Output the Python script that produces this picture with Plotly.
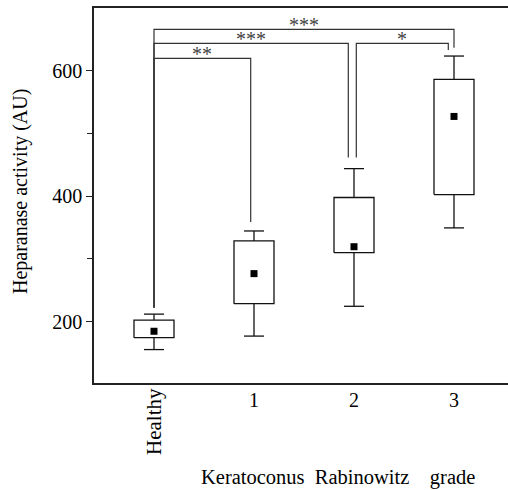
import plotly.graph_objects as go

# ---- data ----
groups = ["Healthy", "1", "2", "3"]
group_pos = [0, 1, 2, 3]
lower_whisker = [155.5, 177, 224.5, 349.5]
q1_vals = [174.5, 228.7, 310, 402.7]
q3_vals = [202.5, 328.7, 398, 586.3]
upper_whisker = [212, 344.6, 444, 623.5]
mean_vals = [184.7, 276.6, 319.5, 527.2]

# significance brackets: left x, right x, top y, left foot y, right foot y, label
br_left_x = [0, 0, 0, 2.023]
br_right_x = [0.967, 1.943, 3.0, 2.943]
br_top_y = [619.8, 643.7, 666.1, 643.7]
br_left_foot = [222.3, 222.3, 222.3, 461.8]
br_right_foot = [359, 461.8, 636.7, 633]
br_labels = ["**", "***", "***", "*"]

y_ticks = [200, 400, 600]
y_minor = [300, 500]

BOX_HALF = 0.2
CAP_HALF = 0.1
FONT = "Liberation Serif"
LINE = dict(color="#111111", width=1.3)

fig = go.Figure()

# boxes and whiskers drawn from the stats arrays
for p, lo, a, b, hi in zip(group_pos, lower_whisker, q1_vals, q3_vals, upper_whisker):
    fig.add_trace(go.Scatter(
        x=[p - BOX_HALF, p + BOX_HALF, p + BOX_HALF, p - BOX_HALF, p - BOX_HALF],
        y=[a, a, b, b, a], mode="lines", fill="toself", fillcolor="white",
        line=LINE, showlegend=False, hoverinfo="skip"))
    fig.add_trace(go.Scatter(
        x=[p, p, None, p, p, None,
           p - CAP_HALF, p + CAP_HALF, None, p - CAP_HALF, p + CAP_HALF],
        y=[b, hi, None, a, lo, None, hi, hi, None, lo, lo],
        mode="lines", line=LINE, showlegend=False, hoverinfo="skip"))

fig.add_trace(go.Scatter(
    x=group_pos, y=mean_vals, mode="markers",
    marker=dict(symbol="square", size=7, color="black"),
    showlegend=False, hoverinfo="skip",
))

for xl, xr, yt, yl, yr, lab in zip(br_left_x, br_right_x, br_top_y,
                                    br_left_foot, br_right_foot, br_labels):
    fig.add_trace(go.Scatter(
        x=[xl, xl, xr, xr], y=[yl, yt, yt, yr], mode="lines",
        line=dict(color="#333333", width=1.2),
        showlegend=False, hoverinfo="skip",
    ))
    fig.add_annotation(
        x=(xl + xr) / 2, y=yt, xref="x", yref="y",
        text=lab, showarrow=False, yanchor="bottom", xanchor="center",
        yshift=-9,
        font=dict(family=FONT, size=20, color="#444444"),
    )

# x tick labels
for gx, g in zip(group_pos, groups):
    if g == "Healthy":
        fig.add_annotation(x=gx, y=-0.104, xref="x", yref="paper", text=g,
                           textangle=-90, showarrow=False,
                           xanchor="center", yanchor="middle",
                           font=dict(family=FONT, size=21, color="black"))
    else:
        fig.add_annotation(x=gx, y=-0.045, xref="x", yref="paper", text=g,
                           showarrow=False, xanchor="center", yanchor="middle",
                           font=dict(family=FONT, size=20, color="black"))

# axis titles
fig.add_annotation(x=-0.178, y=0.51, xref="paper", yref="paper",
                   text="Heparanase activity (AU)", textangle=-90,
                   showarrow=False, xanchor="center", yanchor="middle",
                   font=dict(family=FONT, size=20, color="black"))
fig.add_annotation(x=0.59, y=-0.253, xref="paper", yref="paper",
                   text="Keratoconus\u00a0 Rabinowitz\u00a0\u00a0\u00a0 grade",
                   showarrow=False, xanchor="center", yanchor="middle",
                   font=dict(family=FONT, size=20.5, color="black"))

fig.update_layout(
    width=508, height=490,
    margin=dict(l=94, r=0, t=8, b=107),
    plot_bgcolor="white", paper_bgcolor="white",
    font=dict(family=FONT, size=20, color="black"),
    xaxis=dict(range=[-0.6, 3.54], showticklabels=False, ticks="",
               showgrid=False, zeroline=False, showline=True,
               linecolor="#222222", linewidth=1.5, mirror=True),
    yaxis=dict(range=[102.2, 700.1], tickvals=y_ticks,
               ticktext=[str(v) for v in y_ticks],
               ticks="outside", ticklen=6, tickcolor="#222222", tickwidth=1.2,
               minor=dict(tickvals=y_minor, ticks="outside", ticklen=5,
                          tickcolor="#222222", tickwidth=1.2),
               showgrid=False, zeroline=False, showline=True,
               linecolor="#222222", linewidth=1.5, mirror=False,
               tickfont=dict(family=FONT, size=20, color="black")),
)

fig.write_html("out.html", config={"displayModeBar": False},
               post_script="document.body.style.margin='0';document.body.style.overflow='hidden';")
